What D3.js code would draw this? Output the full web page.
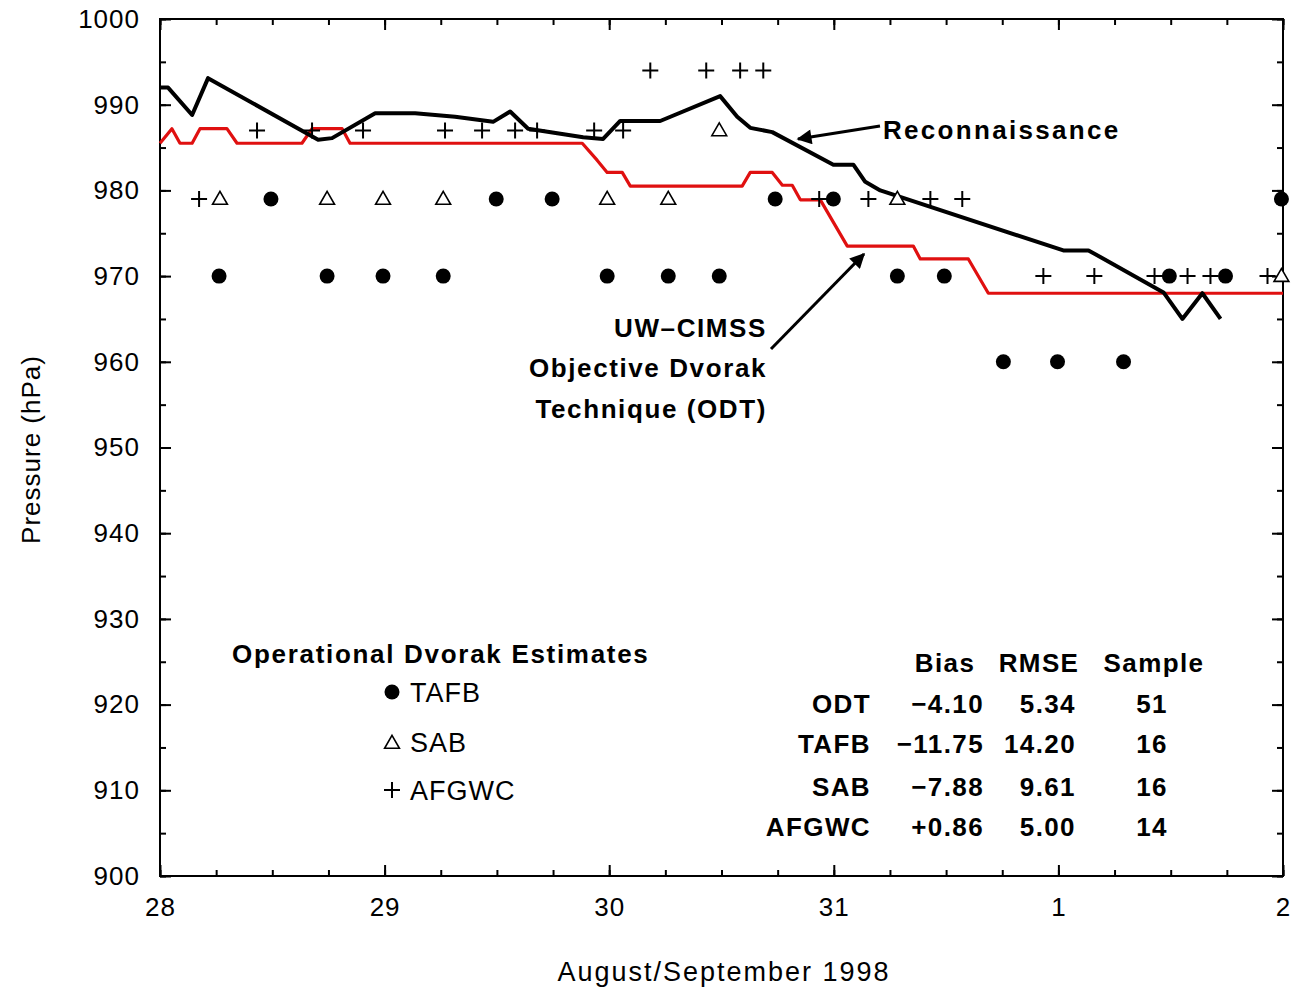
<!DOCTYPE html>
<html>
<head>
<meta charset="utf-8">
<script src="https://cdn.jsdelivr.net/npm/d3@7"></script>
<style>
  body { margin: 0; background: #fff; }
  svg text { font-family: "Liberation Sans", Arial, sans-serif; fill: #000; }
</style>
</head>
<body>
<svg id="chart" width="1303" height="992"></svg>
<script>
// days counted from 28 Aug 1998 00Z, pressure in hPa
var dayLabels = ['28', '29', '30', '31', '1', '2']

var reconDay = [0, 0.036, 0.143, 0.214, 0.704, 0.766, 0.958, 1.136, 1.314, 1.483, 1.559, 1.639, 1.884, 1.973,
  2.049, 2.227, 2.494, 2.570, 2.628, 2.726, 2.998, 3.087, 3.140, 3.207, 4.022, 4.134, 4.468, 4.552, 4.641, 4.722]
var reconHpa = [992, 992, 988.8, 993.1, 985.9, 986.1, 989, 989, 988.6, 988, 989.2, 987.2, 986.2, 986,
  988.1, 988.1, 991, 988.6, 987.3, 986.8, 983, 983, 981, 980, 973, 973, 968.1, 965, 968, 965]

var odtDay = [0, 0.053, 0.089, 0.143, 0.178, 0.298, 0.343, 0.632, 0.677, 0.811, 0.846, 1.880, 1.947, 1.991,
  2.058, 2.094, 2.592, 2.628, 2.726, 2.771, 2.815, 2.851, 2.940, 3.060, 3.354, 3.385, 3.599, 3.688, 5]
var odtHpa = [985.5, 987.2, 985.5, 985.5, 987.2, 987.2, 985.5, 985.5, 987.2, 987.2, 985.5, 985.5, 983.5, 982.1,
  982.1, 980.5, 980.5, 982.1, 982.1, 980.6, 980.6, 978.9, 978.9, 973.5, 973.5, 972, 972, 968, 968]

var tafbDay = [0.263, 0.494, 0.744, 0.993, 1.261, 1.497, 1.746, 1.991, 2.263, 2.490, 2.739, 2.998, 3.283, 3.492,
  3.755, 3.996, 4.290, 4.494, 4.744, 4.993]
var tafbHpa = [970, 979, 970, 970, 970, 979, 979, 970, 970, 970, 979, 979, 970, 970, 960, 960, 960, 970, 970, 979]

var sabDay = [0.267, 0.744, 0.993, 1.261, 1.991, 2.263, 2.490, 3.283, 4.993]
var sabHpa = [979, 979, 979, 979, 979, 979, 987, 979, 970]

var afgwcDay = [0.174, 0.432, 0.677, 0.904, 1.269, 1.434, 1.581, 1.679, 1.933, 2.062, 2.183, 2.432, 2.583, 2.686,
  2.935, 3.154, 3.430, 3.572, 3.933, 4.160, 4.428, 4.575, 4.677, 4.931]
var afgwcHpa = [979, 987, 987, 987, 987, 987, 987, 987, 987, 987, 994, 994, 994, 994,
  979, 979, 979, 979, 970, 970, 970, 970, 970, 970]

var statHead = ['Bias', 'RMSE', 'Sample']
var statRows = ['ODT', 'TAFB', 'SAB', 'AFGWC']
var statBias = ['\u22124.10', '\u221211.75', '\u22127.88', '+0.86']
var statRmse = ['5.34', '14.20', '9.61', '5.00']
var statSample = ['51', '16', '16', '14']

var legendNames = ['TAFB', 'SAB', 'AFGWC']

var svg = d3.select('#chart')
var W = 1303, H = 992
var m = {left: 160, right: 1283, top: 19, bottom: 876}

var x = d3.scaleLinear().domain([0, 5]).range([m.left, m.right])
var y = d3.scaleLinear().domain([900, 1000]).range([m.bottom, m.top])

svg.append('rect').attr('width', W).attr('height', H).attr('fill', '#fff')

// ---- axes: ticks point inwards on all four sides
function styleAxis(g) {
  g.select('.domain').remove()
  g.selectAll('.tick line').attr('stroke', '#000').attr('stroke-width', 2)
  g.selectAll('.tick text').attr('font-size', 26).attr('letter-spacing', 1)
    .style('font-family', '"Liberation Sans", Arial, sans-serif')
}
var quarterDays = d3.range(0, 5.001, 0.25)
var halfTens = d3.range(900, 1000.1, 5)

svg.append('g').attr('transform', 'translate(0,' + m.bottom + ')')
  .call(d3.axisBottom(x).tickValues(quarterDays).tickSize(-6).tickFormat(''))
  .call(styleAxis)
svg.append('g').attr('transform', 'translate(0,' + m.bottom + ')')
  .call(d3.axisBottom(x).tickValues(d3.range(0, 6)).tickSize(-11).tickPadding(22)
    .tickFormat(function(d) { return dayLabels[d] }))
  .call(styleAxis)
svg.append('g').attr('transform', 'translate(0,' + m.top + ')')
  .call(d3.axisTop(x).tickValues(quarterDays).tickSize(-6).tickFormat(''))
  .call(styleAxis)
svg.append('g').attr('transform', 'translate(0,' + m.top + ')')
  .call(d3.axisTop(x).tickValues(d3.range(0, 6)).tickSize(-11).tickFormat(''))
  .call(styleAxis)

svg.append('g').attr('transform', 'translate(' + m.left + ',0)')
  .call(d3.axisLeft(y).tickValues(halfTens).tickSize(-6).tickFormat(''))
  .call(styleAxis)
svg.append('g').attr('transform', 'translate(' + m.left + ',0)')
  .call(d3.axisLeft(y).tickValues(d3.range(900, 1001, 10)).tickSize(-11).tickPadding(20)
    .tickFormat(d3.format('d')))
  .call(styleAxis)
svg.append('g').attr('transform', 'translate(' + m.right + ',0)')
  .call(d3.axisRight(y).tickValues(halfTens).tickSize(-6).tickFormat(''))
  .call(styleAxis)
svg.append('g').attr('transform', 'translate(' + m.right + ',0)')
  .call(d3.axisRight(y).tickValues(d3.range(900, 1001, 10)).tickSize(-11).tickFormat(''))
  .call(styleAxis)

svg.append('rect')
  .attr('x', m.left).attr('y', m.top)
  .attr('width', m.right - m.left).attr('height', m.bottom - m.top)
  .attr('fill', 'none').attr('stroke', '#000').attr('stroke-width', 2)

// axis titles
svg.append('text')
  .attr('transform', 'translate(40,' + ((m.top + m.bottom) / 2 + 2) + ') rotate(-90)')
  .attr('text-anchor', 'middle').attr('font-size', 26).attr('letter-spacing', 1)
  .text('Pressure (hPa)')
svg.append('text')
  .attr('x', 724).attr('y', 981)
  .attr('text-anchor', 'middle').attr('font-size', 27).attr('letter-spacing', 2)
  .text('August/September 1998')

// ---- lines
var line = d3.line()
  .x(function(d) { return x(d[0]) })
  .y(function(d) { return y(d[1]) })

svg.append('path')
  .datum(odtDay.map(function(d, i) { return [d, odtHpa[i]] }))
  .attr('d', line).attr('fill', 'none')
  .attr('stroke', '#e01010').attr('stroke-width', 3.2).attr('stroke-linejoin', 'round')

svg.append('path')
  .datum(reconDay.map(function(d, i) { return [d, reconHpa[i]] }))
  .attr('d', line).attr('fill', 'none')
  .attr('stroke', '#000').attr('stroke-width', 4).attr('stroke-linejoin', 'round')

// ---- markers
var triangle = d3.symbol().type(d3.symbolTriangle).size(95)
var plusPath = 'M-8,0H8M0,-8V8'

function drawTafb(sel) {
  sel.append('circle').attr('r', 7.5).attr('fill', '#000')
}
function drawSab(sel) {
  sel.append('path').attr('d', triangle).attr('transform', 'translate(0,1)')
    .attr('fill', '#fff').attr('stroke', '#000').attr('stroke-width', 1.6)
}
function drawAfgwc(sel) {
  sel.append('path').attr('d', plusPath).attr('stroke', '#000').attr('stroke-width', 2)
}

svg.append('g').selectAll('g')
  .data(tafbDay.map(function(d, i) { return [d, tafbHpa[i]] }))
  .join('g')
  .attr('transform', function(d) { return 'translate(' + x(d[0]) + ',' + y(d[1]) + ')' })
  .call(drawTafb)
svg.append('g').selectAll('g')
  .data(sabDay.map(function(d, i) { return [d, sabHpa[i]] }))
  .join('g')
  .attr('transform', function(d) { return 'translate(' + x(d[0]) + ',' + y(d[1]) + ')' })
  .call(drawSab)
svg.append('g').selectAll('g')
  .data(afgwcDay.map(function(d, i) { return [d, afgwcHpa[i]] }))
  .join('g')
  .attr('transform', function(d) { return 'translate(' + x(d[0]) + ',' + y(d[1]) + ')' })
  .call(drawAfgwc)

// ---- annotations
svg.append('defs').append('marker')
  .attr('id', 'head').attr('viewBox', '0 0 10 10')
  .attr('refX', 9).attr('refY', 5)
  .attr('markerWidth', 6).attr('markerHeight', 5).attr('orient', 'auto')
  .attr('markerUnits', 'strokeWidth')
  .append('path').attr('d', 'M0,0L10,5L0,10z').attr('fill', '#000')

svg.append('line')
  .attr('x1', 880).attr('y1', 126).attr('x2', 798).attr('y2', 139)
  .attr('stroke', '#000').attr('stroke-width', 3).attr('marker-end', 'url(#head)')
svg.append('text')
  .attr('x', 883).attr('y', 139)
  .attr('font-size', 26).attr('font-weight', 'bold').attr('letter-spacing', 2.3)
  .text('Reconnaissance')

svg.append('line')
  .attr('x1', 771).attr('y1', 349).attr('x2', 864).attr('y2', 254)
  .attr('stroke', '#000').attr('stroke-width', 3).attr('marker-end', 'url(#head)')
var odtLabel = ['UW\u2013CIMSS', 'Objective Dvorak', 'Technique (ODT)']
svg.append('g').selectAll('text')
  .data(odtLabel).join('text')
  .attr('x', 767).attr('y', function(d, i) { return [337, 377, 418][i] })
  .attr('text-anchor', 'end')
  .attr('font-size', 26).attr('font-weight', 'bold').attr('letter-spacing', 1.6)
  .text(function(d) { return d })

// ---- legend
svg.append('text')
  .attr('x', 232).attr('y', 663)
  .attr('font-size', 26).attr('font-weight', 'bold').attr('letter-spacing', 1.7)
  .text('Operational Dvorak Estimates')

var leg = svg.append('g').selectAll('g')
  .data(legendNames).join('g')
  .attr('transform', function(d, i) { return 'translate(392,' + [692, 743, 790][i] + ')' })
leg.filter(function(d, i) { return i === 0 }).call(drawTafb)
leg.filter(function(d, i) { return i === 1 }).call(drawSab)
leg.filter(function(d, i) { return i === 2 }).call(drawAfgwc)
leg.append('text')
  .attr('x', 18).attr('y', function(d, i) { return [10, 9, 10][i] })
  .attr('font-size', 27).attr('letter-spacing', 1)
  .text(function(d) { return d })

// ---- statistics table
var tbl = svg.append('g').attr('font-size', 26).attr('font-weight', 'bold').attr('letter-spacing', 1.4)
tbl.selectAll('text.head')
  .data(statHead).join('text').attr('class', 'head')
  .attr('x', function(d, i) { return [945, 1039, 1154][i] }).attr('y', 672)
  .attr('text-anchor', 'middle')
  .text(function(d) { return d })

var rowY = [713, 753, 796, 836]
tbl.selectAll('text.row')
  .data(statRows).join('text').attr('class', 'row')
  .attr('x', 871).attr('y', function(d, i) { return rowY[i] })
  .attr('text-anchor', 'end').text(function(d) { return d })
tbl.selectAll('text.bias')
  .data(statBias).join('text').attr('class', 'bias')
  .attr('x', 984).attr('y', function(d, i) { return rowY[i] })
  .attr('text-anchor', 'end').text(function(d) { return d })
tbl.selectAll('text.rmse')
  .data(statRmse).join('text').attr('class', 'rmse')
  .attr('x', 1076).attr('y', function(d, i) { return rowY[i] })
  .attr('text-anchor', 'end').text(function(d) { return d })
tbl.selectAll('text.sample')
  .data(statSample).join('text').attr('class', 'sample')
  .attr('x', 1152).attr('y', function(d, i) { return rowY[i] })
  .attr('text-anchor', 'middle').text(function(d) { return d })
</script>
</body>
</html>
